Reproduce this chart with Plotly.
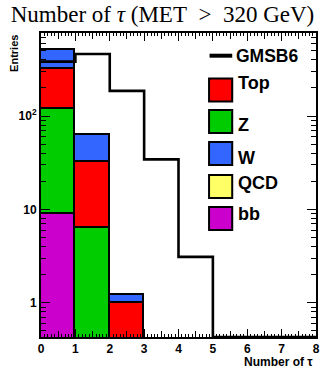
import plotly.graph_objects as go

# ---------------- data ----------------
bin_edges = [0, 1, 2, 3, 4, 5, 6, 7, 8]
bin_centers = [0.5, 1.5, 2.5, 3.5, 4.5, 5.5, 6.5, 7.5]
bb_vals = [8.9, 0, 0, 0, 0, 0, 0, 0]
z_vals = [111, 6.4, 0, 0, 0, 0, 0, 0]
top_vals = [198, 26, 1.0, 0, 0, 0, 0, 0]
w_vals = [193, 30.3, 0.2, 0, 0, 0, 0, 0]
qcd_vals = [0, 0, 0, 0, 0, 0, 0, 0]
gmsb6_vals = [383, 463, 186, 34.4, 3.1, 0, 0, 0]
y_tick_vals = [1, 10, 100]
y_tick_text = ["1", "10", "10<sup>2</sup>"]
x_tick_vals = [0, 1, 2, 3, 4, 5, 6, 7, 8]

# ---------------- styling ----------------
W, H = 325, 370
L, R, T, B = 41, 5, 33, 33
Y_LOG_RANGE = [-0.367, 2.89]
FONT = "Liberation Sans, Arial, sans-serif"
COL = {"Top": "#FF0000", "Z": "#00CC00", "W": "#3366FF", "QCD": "#FFFF66", "bb": "#CC00CC"}

stack = [("bb", bb_vals), ("Z", z_vals), ("Top", top_vals), ("W", w_vals), ("QCD", qcd_vals)]

fig = go.Figure()
for name, vals in stack:
    fig.add_trace(go.Bar(
        x=bin_centers, y=vals, width=1.0, name=name,
        marker=dict(color=COL[name], line=dict(color="black", width=1.6)),
        showlegend=False,
    ))

floor = 10 ** Y_LOG_RANGE[0]
gy = [max(v, floor) for v in gmsb6_vals]
fig.add_trace(go.Scatter(
    x=bin_edges, y=gy + [gy[-1]], mode="lines", line_shape="hv",
    line=dict(color="black", width=2.6), showlegend=False, name="GMSB6",
))
# half-step ticks on a hidden overlay axis
fig.add_trace(go.Scatter(x=[0, 8], y=[1, 1], xaxis="x2", mode="lines",
                         line=dict(width=0), hoverinfo="skip", showlegend=False))

fig.update_layout(
    width=W, height=H, margin=dict(l=L, r=R, t=T, b=B),
    barmode="stack", bargap=0, plot_bgcolor="white", paper_bgcolor="white",
    title=dict(text="Number of <i>τ</i> (MET&nbsp;&nbsp;&gt;&nbsp;&nbsp;320 GeV)", x=0.5, xanchor="center",
               y=0.962, yanchor="middle", yref="container",
               font=dict(family="Liberation Serif, DejaVu Serif, serif", size=23, color="black")),
    xaxis=dict(range=[0, 8], tickvals=x_tick_vals, showline=True, linewidth=2, linecolor="black",
               mirror="ticks", ticks="inside", ticklen=8, tickwidth=1, tickcolor="black",
               minor=dict(dtick=0.1, ticks="inside", ticklen=3, tickcolor="black"),
               showgrid=False, zeroline=False,
               tickfont=dict(family=FONT, size=12, color="black", weight="bold")),
    xaxis2=dict(range=[0, 8], overlaying="x", side="bottom",
                tickvals=[0.5, 1.5, 2.5, 3.5, 4.5, 5.5, 6.5, 7.5], showticklabels=False,
                ticks="inside", ticklen=6, tickcolor="black", mirror="ticks",
                showline=False, showgrid=False, zeroline=False),
    yaxis=dict(type="log", range=Y_LOG_RANGE, tickvals=y_tick_vals, ticktext=y_tick_text,
               showline=True, linewidth=2, linecolor="black", mirror="ticks",
               ticks="inside", ticklen=9, tickcolor="black",
               minor=dict(ticks="inside", ticklen=5, tickcolor="black",
                          tickvals=[0.5, 0.6, 0.7, 0.8, 0.9, 2, 3, 4, 5, 6, 7, 8, 9,
                                    20, 30, 40, 50, 60, 70, 80, 90, 200, 300, 400, 500, 600, 700]),
               showgrid=False, zeroline=False,
               tickfont=dict(family=FONT, size=12, color="black", weight="bold")),
)

def px_x(x):
    return (x - L) / (W - L - R)

def px_y(y):
    return (H - B - y) / (H - T - B)

ann = []
shapes = []
# axis titles
ann.append(dict(text="Number of τ", x=px_x(319), y=px_y(362), xref="paper", yref="paper",
                xanchor="right", yanchor="middle", showarrow=False,
                font=dict(family=FONT, size=12, color="black", weight="bold")))
ann.append(dict(text="Entries", x=px_x(13), y=px_y(33), xref="paper", yref="paper",
                xanchor="center", yanchor="top", textangle=-90, showarrow=False,
                font=dict(family=FONT, size=11, color="black", weight="bold")))

# legend (manual, ROOT-style)
shapes.append(dict(type="line", xref="paper", yref="paper", x0=px_x(212), x1=px_x(235),
                   y0=px_y(55.7), y1=px_y(55.7), line=dict(color="black", width=4)))
ann.append(dict(text="GMSB6", x=px_x(237), y=px_y(55.5), xref="paper", yref="paper",
                xanchor="left", yanchor="middle", showarrow=False,
                font=dict(family=FONT, size=17.5, color="black", weight="bold")))
leg_names = ["Top", "Z", "W", "QCD", "bb"]
box_tops = [78.5, 110, 142, 175, 207]
text_cy = [83.5, 124.5, 158, 183, 214]
for nm, bt, cy in zip(leg_names, box_tops, text_cy):
    shapes.append(dict(type="rect", xref="paper", yref="paper",
                       x0=px_x(211.5), x1=px_x(235), y0=px_y(bt), y1=px_y(bt + 23),
                       fillcolor=COL[nm], line=dict(color="black", width=2)))
    ann.append(dict(text=nm, x=px_x(238.5), y=px_y(cy), xref="paper", yref="paper",
                    xanchor="left", yanchor="middle", showarrow=False,
                    font=dict(family=FONT, size=18, color="black", weight="bold")))

fig.update_layout(annotations=ann, shapes=shapes)
fig.write_html("out.html", config={"displayModeBar": False},
               post_script="document.body.style.margin='0';document.body.style.padding='0';")
